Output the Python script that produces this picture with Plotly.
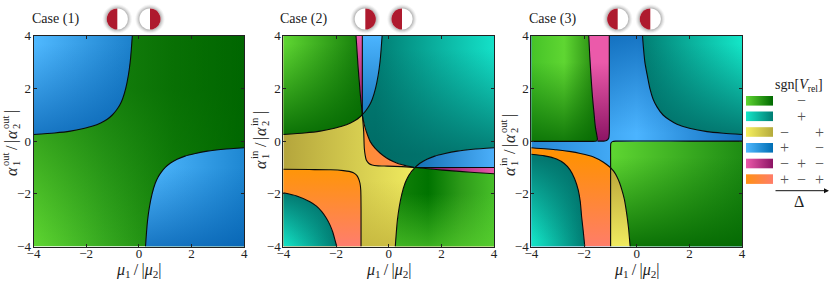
import plotly.graph_objects as go

W, H = 830, 281
FONT = "Liberation Serif"
INK = "#222222"

tick_values = [-4, -2, 0, 2, 4]
case_labels = ["Case (1)", "Case (2)", "Case (3)"]
sign_rows = [["", "−", ""], ["", "+", ""], ["−", "", "+"], ["+", "", "−"], ["−", "+", "−"], ["+", "−", "+"]]

# ---- boundaries: panel 1 ----
p1_ul_x = [-0.25, -0.29, -0.33, -0.4, -0.5, -0.62, -0.72, -0.85, -1, -1.2, -1.45, -1.75, -2.1, -2.6, -3.2, -4]
p1_ul_y = [4, 3.45, 3, 2.5, 2, 1.6, 1.38, 1.18, 1, 0.83, 0.69, 0.57, 0.48, 0.38, 0.31, 0.25]
p1_lr_x = [0.25, 0.29, 0.33, 0.4, 0.5, 0.62, 0.72, 0.85, 1, 1.2, 1.45, 1.75, 2.1, 2.6, 3.2, 4]
p1_lr_y = [-4, -3.45, -3, -2.5, -2, -1.6, -1.38, -1.18, -1, -0.83, -0.69, -0.57, -0.48, -0.38, -0.31, -0.25]

# ---- panel 2 ----
p2_top_x = [-0.25, -0.29, -0.33, -0.4, -0.5, -0.62, -0.72, -0.85, -1]
p2_top_y = [4, 3.45, 3, 2.5, 2, 1.6, 1.38, 1.18, 1]
p2_left_x = [-1, -1.2, -1.45, -1.75, -2.1, -2.6, -3.2, -4]
p2_left_y = [1, 0.83, 0.69, 0.57, 0.48, 0.38, 0.31, 0.25]
p2_pink_x = [-1.24, -1.2, -1.16, -1.12, -1.08, -1.04, -1]
p2_pink_y = [4, 3.4, 2.8, 2.3, 1.8, 1.4, 1]
p2_bar_x = [-1, -1]
p2_bar_y = [4, 1]
p2_teal_x = [-1, -0.96, -0.89, -0.8, -0.7, -0.52, -0.32, -0.08, 0.19, 0.55, 0.97]
p2_teal_y = [1, 0.78, 0.49, 0.22, -0.02, -0.27, -0.46, -0.64, -0.78, -0.91, -1]
p2_mid_x = [-1, -0.95, -0.926, -0.89, -0.85, -0.75, -0.63, -0.4, -0.06, 0.5, 0.97]
p2_mid_y = [1, 0.36, -0.27, -0.55, -0.72, -0.85, -0.91, -0.94, -0.95, -0.97, -1]
p2_right_x = [1, 1.2, 1.45, 1.75, 2.1, 2.6, 3.2, 4]
p2_right_y = [-1, -0.83, -0.69, -0.57, -0.48, -0.38, -0.31, -0.25]
p2_line_x = [1, 4]
p2_line_y = [-1, -1]
p2_low_x = [1, 1.4, 1.8, 2.3, 2.8, 3.4, 4]
p2_low_y = [-1, -1.04, -1.08, -1.12, -1.16, -1.2, -1.24]
p2_yel_x = [1, 0.85, 0.72, 0.62, 0.5, 0.4, 0.33, 0.29, 0.25]
p2_yel_y = [-1, -1.18, -1.38, -1.6, -2, -2.5, -3, -3.45, -4]
p2_or_x = [-4, -3, -2.2, -1.72, -1.5, -1.34, -1.22, -1.15, -1.09, -1.06, -1.05, -1.05]
p2_or_y = [-1.07, -1.08, -1.09, -1.12, -1.15, -1.2, -1.29, -1.41, -1.6, -1.86, -2.6, -4]
p2_tl_x = [-4, -3.49, -2.99, -2.74, -2.54, -2.37, -2.23, -2.12, -2.04, -1.97]
p2_tl_y = [-1.96, -2.08, -2.3, -2.47, -2.68, -2.92, -3.18, -3.46, -3.75, -4]

# ---- panel 3 ----
p3_gr_x = [-1.82, -1.78, -1.73, -1.68, -1.62, -1.57, -1.51, -1.49, -1.53, -1.7, -2.5, -4]
p3_gr_y = [4, 3.2, 2.4, 1.7, 1.06, 0.55, 0.2, 0.07, -0.0, -0.01, -0.01, -0.01]
p3_pk_x = [-1.04, -1.04, -1.04, -1.06, -1.13, -1.25, -1.49]
p3_pk_y = [4, 2, 0.3, 0.12, 0.03, 0.0, 0.0]
p3_ur_x = [0.22, 0.26, 0.31, 0.39, 0.5, 0.62, 0.77, 1, 1.25, 1.53, 2, 2.67, 3.3, 4]
p3_ur_y = [4, 3.5, 3, 2.55, 2, 1.6, 1.3, 0.99, 0.8, 0.64, 0.49, 0.36, 0.3, 0.25]
p3_lr_x = [4, 2, -0.8, -0.92, -0.98, -0.99, -0.99, -0.99]
p3_lr_y = [0, 0, 0, -0.02, -0.08, -0.2, -0.6, -1]
p3_ye_x = [-1, -0.85, -0.75, -0.65, -0.56, -0.47, -0.38, -0.31, -0.25]
p3_ye_y = [-1, -1.18, -1.35, -1.58, -1.86, -2.2, -2.75, -3.3, -4]
p3_ye_left_x = [-0.99, -0.99]
p3_ye_left_y = [-1, -4]
p3_bl_x = [-4, -3.04, -2.5, -2.14, -1.64, -1.26, -1]
p3_bl_y = [-0.25, -0.33, -0.4, -0.47, -0.6, -0.8, -1]
p3_te_x = [-4, -3.5, -3.04, -2.75, -2.53, -2.36, -2.22, -2.14, -2.09, -2.03, -1.97]
p3_te_y = [-0.5, -0.56, -0.68, -0.85, -1.09, -1.42, -1.85, -2.3, -2.87, -3.4, -4]

GREEN = ("rgb(95,214,50)", "rgb(0,105,0)")
TEAL = ("rgb(20,230,200)", "rgb(0,125,115)")
YELLOW = ("rgb(245,240,95)", "rgb(180,170,60)")
BLUE = ("rgb(80,185,255)", "rgb(0,110,180)")
PINK = ("rgb(235,90,170)", "rgb(140,20,100)")
ORANGE = ("rgb(255,145,20)", "rgb(255,125,105)")
legend_colors = [GREEN, TEAL, YELLOW, BLUE, PINK, ORANGE]

# ---- layout helpers (pixel boxes of the panels) ----
panel_left = [33.5, 283.3, 531.3]
panel_top = 35.7
panel_size = 210.8

fig = go.Figure()
axes = {}
for i, left in enumerate(panel_left):
    s = "" if i == 0 else str(i + 1)
    axes[f"xaxis{s}"] = dict(
        domain=[left / W, (left + panel_size) / W], range=[-4, 4], tickvals=tick_values, automargin=False,
        ticks="inside", ticklen=3, tickwidth=0.7, tickcolor="#222", showline=True, mirror="ticks",
        linecolor="#222", linewidth=1, showgrid=False, zeroline=False, anchor=f"y{s}",
        tickfont=dict(family=FONT, size=13, color=INK), ticklabelstandoff=-5,
    )
    axes[f"yaxis{s}"] = dict(
        domain=[1 - (panel_top + panel_size) / H, 1 - panel_top / H], range=[-4, 4], tickvals=tick_values,
        automargin=False,
        ticks="inside", ticklen=3, tickwidth=0.7, tickcolor="#222", showline=True, mirror="ticks",
        linecolor="#222", linewidth=1, showgrid=False, zeroline=False, anchor=f"x{s}",
        tickfont=dict(family=FONT, size=13, color=INK), ticklabelstandoff=-1,
    )
# a full-canvas overlay axis for the key and the case headers
axes["xaxis4"] = dict(domain=[0, 1], range=[0, W], visible=False, anchor="y4", automargin=False)
axes["yaxis4"] = dict(domain=[0, 1], range=[H, 0], visible=False, anchor="x4", automargin=False)


def scale(colors):
    n = len(colors) - 1
    return [[k / n, c] for k, c in enumerate(colors)]


def region(panel, xs, ys, layers):
    s = "" if panel == 1 else str(panel)
    for kind, start, stop, colors in layers:
        fig.add_trace(go.Scatter(
            x=xs, y=ys, mode="lines", fill="toself", line=dict(width=0), hoverinfo="skip", showlegend=False,
            xaxis=f"x{s}", yaxis=f"y{s}",
            fillgradient=dict(type=kind, start=start, stop=stop, colorscale=scale(colors)),
        ))


def curve(panel, xs, ys):
    s = "" if panel == 1 else str(panel)
    fig.add_trace(go.Scatter(x=xs, y=ys, mode="lines",
                             line=dict(color="#0a0a0a", width=1.1, shape="spline", smoothing=0.6),
                             hoverinfo="skip", showlegend=False, xaxis=f"x{s}", yaxis=f"y{s}"))


def rv(a):
    return a[::-1]


G_DK = "rgba(0,100,0,{})"
T_DK = "rgba(0,105,100,{})"
B_DK = "rgba(0,90,170,{})"

# ---- panel 1 ----
region(1, [-4, 4, 4, -4], [-4, -4, 4, 4], [
    ("horizontal", -4, 4, ["rgb(95,214,50)", "rgb(55,170,32)", "rgb(20,130,10)", "rgb(0,105,0)"]),
    ("vertical", -4, 2, [G_DK.format(0), G_DK.format(0.6)]),
])
region(1, p1_ul_x + [-4], p1_ul_y + [4], [
    ("horizontal", -4, 0, ["rgb(80,185,255)", "rgb(25,125,200)"]),
    ("vertical", 0.2, 3.7, [B_DK.format(0.7), B_DK.format(0)]),
])
region(1, p1_lr_x + [4], p1_lr_y + [-4], [
    ("horizontal", 0.3, 4, ["rgb(80,185,255)", "rgb(30,135,210)"]),
    ("vertical", -4, -1, [B_DK.format(0.7), B_DK.format(0)]),
])
curve(1, p1_ul_x, p1_ul_y)
curve(1, p1_lr_x, p1_lr_y)

# ---- panel 2 ----
region(2, [-4, 4, 4, -4], [-4, -4, 4, 4], [
    ("horizontal", -4, 1, ["rgb(180,165,60)", "rgb(240,235,95)"]),
    ("vertical", -4, -1.5, ["rgba(195,180,60,0.8)", "rgba(195,180,60,0)"]),
])
region(2, p2_left_x + [-4] + p2_pink_x, p2_left_y + [4] + p2_pink_y, [
    ("horizontal", -4, -1, ["rgb(95,214,50)", "rgb(20,125,10)"]),
    ("vertical", 0.3, 3.7, [G_DK.format(0.85), G_DK.format(0)]),
])
region(2, p2_pink_x + rv(p2_bar_x), p2_pink_y + rv(p2_bar_y), [
    ("vertical", 1, 4, ["rgb(140,20,100)", "rgb(235,90,170)"]),
])
region(2, p2_top_x + rv(p2_bar_x), p2_top_y + rv(p2_bar_y), [
    ("vertical", 1, 4, ["rgb(25,120,190)", "rgb(75,180,255)"]),
])
region(2, p2_top_x + p2_teal_x + p2_right_x + [4], p2_top_y + p2_teal_y + p2_right_y + [4], [
    ("horizontal", -0.5, 4, ["rgb(0,125,115)", "rgb(20,225,200)"]),
    ("vertical", -0.5, 3.5, [T_DK.format(0.85), T_DK.format(0)]),
])
region(2, p2_teal_x + rv(p2_mid_x), p2_teal_y + rv(p2_mid_y), [
    ("horizontal", -1, 1, ["rgb(255,140,50)", "rgb(255,135,90)"]),
])
region(2, p2_right_x + rv(p2_line_x), p2_right_y + rv(p2_line_y), [
    ("horizontal", 1, 4, ["rgb(20,110,180)", "rgb(75,175,250)"]),
])
region(2, p2_low_x + rv(p2_line_x), p2_low_y + rv(p2_line_y), [
    ("horizontal", 1, 4, ["rgb(100,0,80)", "rgb(235,90,170)"]),
])
region(2, p2_low_x + [4] + rv(p2_yel_x), p2_low_y + [-4] + rv(p2_yel_y), [
    ("horizontal", 0.25, 4, ["rgb(20,130,10)", "rgb(0,115,0)", "rgb(45,155,25)", "rgb(70,190,40)"]),
    ("vertical", -4, -2, ["rgba(95,214,50,0.6)", "rgba(95,214,50,0)"]),
])
region(2, p2_or_x + [-4], p2_or_y + [-4], [
    ("vertical", -4, -1, ["rgb(255,125,110)", "rgb(255,150,5)"]),
])
region(2, p2_tl_x + [-4], p2_tl_y + [-4], [
    ("horizontal", -4, -2, ["rgb(20,230,200)", "rgb(0,125,115)"]),
    ("vertical", -4, -2, [T_DK.format(0), T_DK.format(0.85)]),
])
for cx, cy in [(p2_top_x, p2_top_y), (p2_left_x, p2_left_y), (p2_pink_x, p2_pink_y), (p2_bar_x, p2_bar_y),
               (p2_teal_x, p2_teal_y), (p2_mid_x, p2_mid_y), (p2_right_x, p2_right_y), (p2_line_x, p2_line_y),
               (p2_low_x, p2_low_y), (p2_yel_x, p2_yel_y), (p2_or_x, p2_or_y), (p2_tl_x, p2_tl_y)]:
    curve(2, cx, cy)

# ---- panel 3 ----
region(3, [-4, 4, 4, -4], [-4, -4, 4, 4], [
    ("vertical", -4, 4, ["rgb(75,180,255)", "rgb(75,180,255)"]),
    ("horizontal", -4, 4, [B_DK.format(0.5), B_DK.format(0.25), B_DK.format(0), B_DK.format(0.4), B_DK.format(0.75)]),
    ("vertical", 0.3, 4, [B_DK.format(0), B_DK.format(0.7)]),
])
region(3, p3_gr_x + [-4], p3_gr_y + [4], [
    ("horizontal", -4, -1.5, ["rgb(70,195,40)", "rgb(95,214,50)", "rgb(35,135,15)"]),
    ("vertical", 0, 3, [G_DK.format(0.8), G_DK.format(0)]),
])
region(3, p3_gr_x[:8] + rv(p3_pk_x), p3_gr_y[:8] + rv(p3_pk_y), [
    ("vertical", 0, 3, ["rgb(140,20,100)", "rgb(235,90,170)"]),
])
region(3, p3_ur_x + [4], p3_ur_y + [4], [
    ("horizontal", 0, 4, ["rgb(0,120,110)", "rgb(20,230,200)"]),
    ("vertical", 0.3, 3.7, [T_DK.format(0.85), T_DK.format(0)]),
])
region(3, p3_lr_x + p3_ye_x + [4], p3_lr_y + p3_ye_y + [-4], [
    ("horizontal", -1, 4, ["rgb(95,214,50)", "rgb(30,140,20)"]),
    ("vertical", -4, -0.6, [G_DK.format(0.85), G_DK.format(0)]),
])
region(3, p3_ye_x + rv(p3_ye_left_x), p3_ye_y + rv(p3_ye_left_y), [
    ("vertical", -4, -1.2, ["rgb(240,235,95)", "rgb(190,170,60)"]),
])
region(3, p3_bl_x + p3_ye_left_x + rv(p3_te_x), p3_bl_y + p3_ye_left_y + rv(p3_te_y), [
    ("vertical", -4, -0.6, ["rgb(255,125,105)", "rgb(255,145,5)"]),
])
region(3, p3_te_x + [-4], p3_te_y + [-4], [
    ("horizontal", -4, -2, ["rgb(20,230,200)", "rgb(0,125,115)"]),
    ("vertical", -3.8, -0.7, [T_DK.format(0), T_DK.format(0.85)]),
])
for cx, cy in [(p3_gr_x, p3_gr_y), (p3_pk_x, p3_pk_y), (p3_ur_x, p3_ur_y), (p3_lr_x, p3_lr_y), (p3_ye_x, p3_ye_y),
               (p3_ye_left_x, p3_ye_left_y), (p3_bl_x, p3_bl_y), (p3_te_x, p3_te_y)]:
    curve(3, cx, cy)

annotations = []
shapes = []


def text(x, y, s, size=13, angle=0, color=INK, anchor="center"):
    annotations.append(dict(x=x, y=y, xref="x4", yref="y4", text=s, showarrow=False, textangle=angle,
                            font=dict(family=FONT, size=size, color=color), xanchor=anchor, yanchor="middle"))


# ---- case labels and the two half-filled discs above each panel ----
case_x = [55, 303, 552]
disc_x = [[117.3, 150], [365.3, 402], [617.7, 650.3]]
disc_side = [["L", "R"], ["R", "L"], ["L", "L"]]
R = 10.6
for i in range(3):
    text(case_x[i], 19, case_labels[i], 14)
    for cx, side in zip(disc_x[i], disc_side[i]):
        for extra, a in [(4, 0.05), (3, 0.07), (2, 0.1), (1, 0.14)]:
            shapes.append(dict(type="circle", xref="x4", yref="y4", x0=cx - R - extra, x1=cx + R + extra,
                               y0=19 - R - extra, y1=19 + R + extra, fillcolor=f"rgba(60,60,60,{a})", line_width=0))
        shapes.append(dict(type="circle", xref="x4", yref="y4", x0=cx - R, x1=cx + R, y0=19 - R, y1=19 + R,
                           fillcolor="white", line_width=0))
        sgn = -1 if side == "L" else 1
        k = 0.5523 * R
        path = (f"M {cx} {19 - R} C {cx + sgn * k} {19 - R} {cx + sgn * R} {19 - k} {cx + sgn * R} 19 "
                f"C {cx + sgn * R} {19 + k} {cx + sgn * k} {19 + R} {cx} {19 + R} Z")
        shapes.append(dict(type="path", xref="x4", yref="y4", path=path, fillcolor="#AE1A2E", line_width=0))

# ---- x labels ----
xlabel_x = [139, 388.7, 636.7]
for x in xlabel_x:
    text(x, 270, "<i>μ</i><sub>1</sub>\u2009/\u2009|<i>μ</i><sub>2</sub>|", 16)

# ---- rotated y labels built from stacked pieces ----
ylabel_x = [11, 260, 509]
ylabel_hi = ["out", "in", "in"]
ylabel_lo = ["out", "in", "out"]
ylabel_y0 = [172, 165, 172]
for i in range(3):
    x0, y0 = ylabel_x[i], ylabel_y0[i]
    hi, lo = ylabel_hi[i], ylabel_lo[i]
    w1 = 5.5 if hi == "in" else 7.5
    w2 = 5.5 if lo == "in" else 7.5
    text(x0, y0, "<i>α</i>", 16, -90)
    text(x0 - 5.5, y0 - 5 - w1, hi, 10.5, -90)
    text(x0 + 5.5, y0 - 8.5, "1", 10.5, -90)
    ym = y0 - 6 - 2 * w1
    text(x0, ym - 3, "/", 16, -90)
    text(x0, ym - 9, "|", 16, -90)
    text(x0, ym - 16, "<i>α</i>", 16, -90)
    text(x0 - 5.5, ym - 21 - w2, lo, 10.5, -90)
    text(x0 + 5.5, ym - 24.5, "2", 10.5, -90)
    text(x0, ym - 22 - 2 * w2 - 2, "|", 16, -90)

# ---- key ----
swatch_y = [96, 111.5, 127.2, 143, 158.7, 174.3]
sign_x = [784, 801, 819.7]
for row, (light, dark) in enumerate(legend_colors):
    y = swatch_y[row]
    fig.add_trace(go.Scatter(
        x=[746, 773, 773, 746], y=[y, y, y + 9.6, y + 9.6], mode="lines", fill="toself", line=dict(width=0),
        hoverinfo="skip", showlegend=False, xaxis="x4", yaxis="y4",
        fillgradient=dict(type="horizontal", start=746, stop=773, colorscale=scale([light, dark])),
    ))
    for col, sym in enumerate(sign_rows[row]):
        if sym:
            text(sign_x[col], y + 4.8, sym, 16, color="#555555")
text(799, 85.5, "sgn[<i>V</i><sub>rel</sub>]", 14)
text(799, 201.5, "Δ", 16)
annotations.append(dict(x=829, y=190.7, ax=774, ay=190.7, xref="x4", yref="y4", axref="x4", ayref="y4", text="",
                        showarrow=True, arrowhead=2, arrowsize=1, arrowwidth=1, arrowcolor="#111"))

fig.update_layout(
    width=W, height=H, margin=dict(l=0, r=0, t=0, b=0), paper_bgcolor="white", plot_bgcolor="rgba(0,0,0,0)",
    showlegend=False, annotations=annotations, shapes=shapes, **axes,
)
fig.write_html("out.html", config={"displayModeBar": False}, post_script="document.body.style.margin='0';")
